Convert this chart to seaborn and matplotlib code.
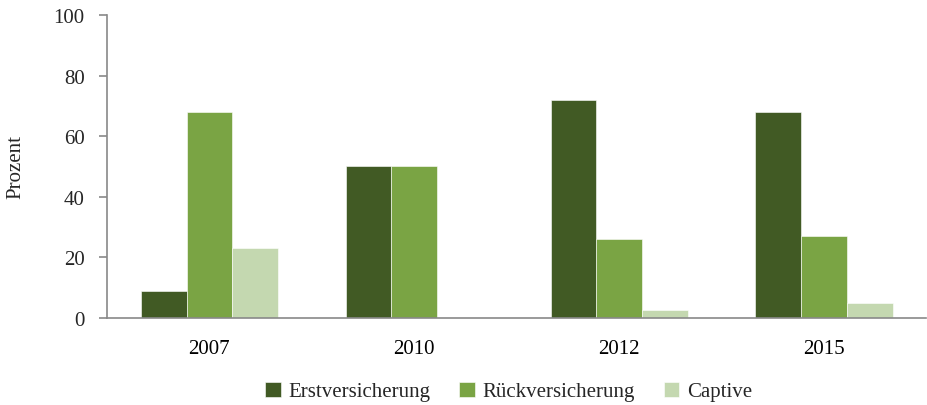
import matplotlib
matplotlib.use('Agg')
import matplotlib.pyplot as plt
import seaborn as sns
import pandas as pd
import numpy as np

years = ['2007', '2010', '2012', '2015']
series = ['Erstversicherung', 'Rückversicherung', 'Captive']
erst = [9, 50, 72, 68]
rueck = [68, 50, 26, 27]
captive = [23, 0, 2.5, 5]
colors = ['#415a24', '#7aa444', '#c4d8b0']

df = pd.DataFrame({
    'Jahr': years * 3,
    'Art': [s for s in series for _ in years],
    'Prozent': erst + rueck + captive,
})

sns.set_theme(style='white')
plt.rcParams['font.family'] = ['Liberation Serif', 'DejaVu Serif']

fig = plt.figure(figsize=(9.27, 4.06), dpi=100)
ax = fig.add_axes([0.1154, 0.2143, 0.884, 0.7463])

sns.barplot(data=df, x='Jahr', y='Prozent', hue='Art', order=years,
            hue_order=series, palette=colors, width=0.67, ax=ax,
            edgecolor='white', linewidth=0.4, saturation=1)

ax.set_ylim(0, 100)
ax.set_xlim(-0.5, 3.5)
ax.set_yticks(np.arange(0, 101, 20))
ax.set_xlabel('')
ax.set_ylabel('Prozent', fontsize=15, labelpad=20)

axis_col = '#898989'
for side in ['top', 'right']:
    ax.spines[side].set_visible(False)
for side in ['left', 'bottom']:
    ax.spines[side].set_color(axis_col)
    ax.spines[side].set_linewidth(1.2)

ax.set_xticks(np.arange(-0.5, 3.6, 1), minor=True)
ax.tick_params(axis='x', which='major', length=0, labelsize=15, pad=15, colors='black')
ax.tick_params(axis='x', which='minor', length=6, width=1.2, color=axis_col, direction='out')
ax.tick_params(axis='y', length=6, width=1.2, color=axis_col, labelsize=15, pad=10,
               left=True, direction='out')
ax.spines['left'].set_bounds(0, 100)

ax.legend(loc='upper center', bbox_to_anchor=(0.49, -0.148), ncol=3, frameon=False,
          fontsize=15, handlelength=0.75, handleheight=0.75, handletextpad=0.35,
          columnspacing=1.4)

fig.savefig('out.png', dpi=100)
